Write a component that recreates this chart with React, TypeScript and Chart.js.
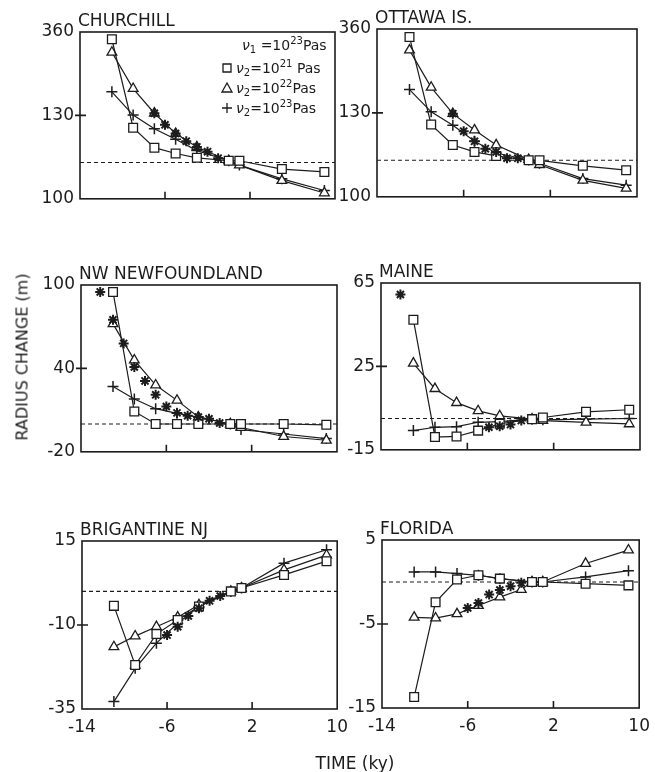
import React, { useEffect, useRef } from 'react';
import { Chart, registerables } from 'chart.js';

Chart.register(...registerables);

// ---------- data ----------
const modelTimes = [-11, -9, -7, -5, -3, 0, 1, 5, 9];
const xTickValues = [-14, -6, 2, 10];
const xTickLabels = ['-14', '-6', '2', '10'];

const churchillYTicks = [-100, 130, 360];
const churchillYLabels = ['100', '130', '360'];
const churchillSquare = [340, 96, 41, 25, 13, 5, 5, -18, -26];
const churchillTriangle = [304, 204, 136, 80, 43, 5, -7, -50, -84];
const churchillPlus = [195, 131, 93, 64, 33, 5, -7, -45, -77];
const churchillObsTimes = [-7, -6, -5, -4, -3, -2, -1];
const churchillObs = [136, 104, 80, 59, 43, 30, 12];

const ottawaYTicks = [-100, 130, 360];
const ottawaYLabels = ['100', '130', '360'];
const ottawaSquare = [338, 98, 42, 23, 12, 0, 0, -15, -27];
const ottawaTriangle = [302, 200, 128, 83, 42, 2, -12, -55, -77];
const ottawaPlus = [194, 133, 96, 52, 20, 1, -8, -50, -68];
const ottawaObsTimes = [-7, -6, -5, -4, -3, -2, -1];
const ottawaObs = [128, 80, 52, 32, 23, 6, 6];

const newfoundlandYTicks = [-20, 40, 100];
const newfoundlandYLabels = ['-20', '40', '100'];
const newfoundlandSquare = [95, 9, 0, 0, 0, 0, 0, 0, -0.6];
const newfoundlandTriangle = [72, 46, 28, 17, 5, 0, -2.5, -9, -11.7];
const newfoundlandPlus = [27, 18, 11, 7.7, 5, 0, -4, -7.2, -10.5];
const newfoundlandObsTimes = [-12.2, -11, -10, -9, -8, -7, -6, -5, -4, -3, -2, -1];
const newfoundlandObs = [95, 75, 58, 41, 31, 21, 12.6, 8, 6, 5, 3.8, 0.7];

const maineYTicks = [-15, 25, 65];
const maineYLabels = ['-15', '25', '65'];
const maineSquare = [47.4, -8.9, -8.6, -5.8, -2.5, -0.3, 0.5, 3.2, 4.2];
const maineTriangle = [26.5, 14.3, 7.6, 3.7, 1.3, -0.3, -1, -1.8, -2.6];
const mainePlus = [-5.8, -4.2, -3.9, -1.8, -1.5, -0.3, -0.6, -0.3, 0];
const maineObsTimes = [-12.2, -4, -3, -2, -1];
const maineObs = [59.5, -4.2, -3.7, -2.9, -1];

const brigantineYTicks = [-35, -10, 15];
const brigantineYLabels = ['-35', '-10', '15'];
const brigantineSquare = [-4.3, -21.9, -12.7, -8.5, -4.5, 0, 1, 4.9, 9];
const brigantineTriangle = [-16.5, -13.3, -10.5, -7.7, -4, 0, 1, 6.4, 10.8];
const brigantinePlus = [-32.8, -22.9, -15.4, -9.5, -4.5, 0, 1, 8.4, 12.4];
const brigantineObsTimes = [-6, -5, -4, -3, -2, -1];
const brigantineObs = [-13, -10.5, -7.3, -5, -2.8, -1.4];

const floridaYTicks = [-15, -5, 5];
const floridaYLabels = ['-15', '-5', '5'];
const floridaSquare = [-13.7, -2.4, 0.3, 0.8, 0.4, 0, 0, -0.2, -0.4];
const floridaTriangleTimes = [-11, -9, -7, -5, -3, -1, 0, 1, 5, 9];
const floridaTriangle = [-4.2, -4.3, -3.8, -2.8, -1.8, -0.9, 0, 0, 2.2, 3.8];
const floridaPlus = [1.2, 1.2, 1.0, 0.8, 0.4, 0, 0, 0.6, 1.35];
const floridaObsTimes = [-6, -5, -4, -3, -2, -1];
const floridaObs = [-3.1, -2.5, -1.5, -0.95, -0.5, -0.1];

// legend rows: [marker, [text, mode]...]
const legendRows: [string, [string, string][]][] = [
  ['', [['ν', 'i'], ['1', 'sub'], [' =10', ''], ['23', 'sup'], ['Pas', '']]],
  ['square', [['ν', 'i'], ['2', 'sub'], ['=10', ''], ['21', 'sup'], [' Pas', '']]],
  ['triangle', [['ν', 'i'], ['2', 'sub'], ['=10', ''], ['22', 'sup'], ['Pas', '']]],
  ['plus', [['ν', 'i'], ['2', 'sub'], ['=10', ''], ['23', 'sup'], ['Pas', '']]],
];

// ---------- layout ----------
const FONT = '"DejaVu Sans", sans-serif';
const INK = '#1c1c1c';
const LM = 62;
const TM = 30;
const RM = 16;

type PanelCfg = {
  title: string;
  yTicks: number[];
  yLabels: string[];
  sq: number[];
  tri: number[];
  triTimes?: number[];
  plus: number[];
  obsT: number[];
  obs: number[];
  rect: { l: number; t: number; r: number; b: number };
  bottom: boolean;
  legend?: boolean;
};

const panels: PanelCfg[] = [
  { title: 'CHURCHILL', yTicks: churchillYTicks, yLabels: churchillYLabels, sq: churchillSquare, tri: churchillTriangle, plus: churchillPlus, obsT: churchillObsTimes, obs: churchillObs, rect: { l: 80, t: 32, r: 335, b: 201 }, bottom: false, legend: true },
  { title: 'OTTAWA IS.', yTicks: ottawaYTicks, yLabels: ottawaYLabels, sq: ottawaSquare, tri: ottawaTriangle, plus: ottawaPlus, obsT: ottawaObsTimes, obs: ottawaObs, rect: { l: 377, t: 29, r: 637, b: 199 }, bottom: false },
  { title: 'NW NEWFOUNDLAND', yTicks: newfoundlandYTicks, yLabels: newfoundlandYLabels, sq: newfoundlandSquare, tri: newfoundlandTriangle, plus: newfoundlandPlus, obsT: newfoundlandObsTimes, obs: newfoundlandObs, rect: { l: 81, t: 285, r: 337, b: 454 }, bottom: false },
  { title: 'MAINE', yTicks: maineYTicks, yLabels: maineYLabels, sq: maineSquare, tri: maineTriangle, plus: mainePlus, obsT: maineObsTimes, obs: maineObs, rect: { l: 381, t: 283, r: 640, b: 452 }, bottom: false },
  { title: 'BRIGANTINE NJ', yTicks: brigantineYTicks, yLabels: brigantineYLabels, sq: brigantineSquare, tri: brigantineTriangle, plus: brigantinePlus, obsT: brigantineObsTimes, obs: brigantineObs, rect: { l: 82, t: 541, r: 340, b: 709 }, bottom: true },
  { title: 'FLORIDA', yTicks: floridaYTicks, yLabels: floridaYLabels, sq: floridaSquare, tri: floridaTriangle, triTimes: floridaTriangleTimes, plus: floridaPlus, obsT: floridaObsTimes, obs: floridaObs, rect: { l: 382, t: 540, r: 642, b: 708 }, bottom: true },
];

const pts = (ts: number[], vs: number[]) => vs.map((v, i) => ({ x: ts[i], y: v }));

function drawRich(ctx: CanvasRenderingContext2D, x: number, y: number, parts: [string, string][]) {
  let cx = x;
  for (const [t, mode] of parts) {
    const small = mode === 'sub' || mode === 'sup';
    ctx.font = `${mode === 'i' ? 'italic ' : ''}${small ? 10 : 14}px ${FONT}`;
    const dy = mode === 'sup' ? -6 : mode === 'sub' ? 3 : 0;
    ctx.fillText(t, cx, y + dy);
    cx += ctx.measureText(t).width;
  }
}

function makePlugin(cfg: PanelCfg) {
  return {
    id: 'panelDecor',
    afterDraw(chart: any) {
      const { ctx, chartArea } = chart;
      const xs = chart.scales.x;
      const ys = chart.scales.y;
      const { left, top, right, bottom } = chartArea;
      ctx.save();
      ctx.strokeStyle = INK;
      ctx.lineWidth = 1.6;
      ctx.strokeRect(left, top, right - left, bottom - top);
      // mid y tick
      const ym = ys.getPixelForValue(cfg.yTicks[1]);
      ctx.beginPath();
      ctx.moveTo(left - 5, ym);
      ctx.lineTo(left + 6, ym);
      // inner x ticks
      for (const v of xTickValues.slice(1, 3)) {
        const px = xs.getPixelForValue(v);
        ctx.moveTo(px, bottom);
        ctx.lineTo(px, bottom - 7);
      }
      ctx.stroke();
      // title
      ctx.fillStyle = INK;
      ctx.font = `17px ${FONT}`;
      ctx.textBaseline = 'alphabetic';
      ctx.textAlign = 'left';
      ctx.fillText(cfg.title, left - 2, top - 6);
      // legend
      if (cfg.legend) {
        const mx = left + 147;
        const baselines = [top + 18, top + 41, top + 61, top + 81];
        legendRows.forEach(([marker, parts], i) => {
          const by = baselines[i];
          const cy = by - 5;
          ctx.lineWidth = 1.3;
          ctx.beginPath();
          if (marker === 'square') ctx.rect(mx - 4, cy - 4, 8, 8);
          if (marker === 'triangle') {
            ctx.moveTo(mx, cy - 5);
            ctx.lineTo(mx + 5, cy + 4);
            ctx.lineTo(mx - 5, cy + 4);
            ctx.closePath();
          }
          if (marker === 'plus') {
            ctx.moveTo(mx - 5, cy);
            ctx.lineTo(mx + 5, cy);
            ctx.moveTo(mx, cy - 5);
            ctx.lineTo(mx, cy + 5);
          }
          ctx.stroke();
          drawRich(ctx, marker ? mx + 9 : mx + 15, by, parts);
        });
      }
      ctx.restore();
    },
  };
}

function buildConfig(cfg: PanelCfg): any {
  const BM = cfg.bottom ? 44 : 14;
  const tickFont = { family: FONT, size: 17 };
  const common = { borderColor: INK, borderWidth: 1.2, tension: 0, clip: false as any };
  return {
    type: 'line',
    data: {
      datasets: [
        { ...common, data: pts(cfg.obsT, cfg.obs), showLine: false, pointStyle: 'star', pointRadius: 5, pointBorderWidth: 2, pointBorderColor: INK },
        { ...common, data: pts(modelTimes, cfg.sq), pointStyle: 'rect', pointRadius: 6.2, pointBackgroundColor: '#fff', pointBorderColor: INK, pointBorderWidth: 1.3 },
        { ...common, data: pts(cfg.triTimes || modelTimes, cfg.tri), pointStyle: 'triangle', pointRadius: 5.6, pointBackgroundColor: '#fff', pointBorderColor: INK, pointBorderWidth: 1.3 },
        { ...common, data: pts(modelTimes, cfg.plus), pointStyle: 'cross', pointRadius: 5.5, pointBorderColor: INK, pointBorderWidth: 1.5 },
        { ...common, data: pts([-14, 10], [0, 0]), borderDash: [4, 3], borderWidth: 1.1, pointRadius: 0 },
      ],
    },
    options: {
      responsive: false,
      maintainAspectRatio: false,
      animation: false,
      events: [],
      layout: { padding: { top: TM, right: RM, left: 0, bottom: 0 } },
      plugins: { legend: { display: false }, tooltip: { enabled: false }, title: { display: false } },
      scales: {
        x: {
          type: 'linear',
          min: -14,
          max: 10,
          grid: { display: false, drawTicks: false },
          border: { display: false },
          afterBuildTicks: (s: any) => { s.ticks = xTickValues.map((v) => ({ value: v })); },
          afterFit: (s: any) => { s.height = BM; },
          ticks: {
            display: cfg.bottom,
            padding: 8,
            color: INK,
            font: tickFont,
            maxRotation: 0,
            autoSkip: false,
            callback: (_v: any, i: number) => xTickLabels[i],
          },
        },
        y: {
          type: 'linear',
          min: cfg.yTicks[0],
          max: cfg.yTicks[2],
          grid: { display: false, drawTicks: false },
          border: { display: false },
          afterBuildTicks: (s: any) => { s.ticks = cfg.yTicks.map((v) => ({ value: v })); },
          afterFit: (s: any) => { s.width = LM; },
          ticks: {
            padding: 6,
            color: INK,
            font: tickFont,
            autoSkip: false,
            callback: (_v: any, i: number) => cfg.yLabels[i],
          },
        },
      },
    },
    plugins: [makePlugin(cfg)],
  };
}

function Panel({ cfg }: { cfg: PanelCfg }) {
  const ref = useRef<HTMLCanvasElement | null>(null);
  const { l, t, r, b } = cfg.rect;
  const BM = cfg.bottom ? 44 : 14;
  const w = r - l + LM + RM;
  const h = b - t + TM + BM;
  useEffect(() => {
    if (!ref.current) return;
    const chart = new Chart(ref.current, buildConfig(cfg));
    return () => chart.destroy();
  }, []);
  return (
    <canvas
      ref={ref}
      width={w}
      height={h}
      style={{ position: 'absolute', left: l - LM, top: t - TM, width: w, height: h }}
    />
  );
}

export default function App() {
  return (
    <div style={{ position: 'absolute', left: 0, top: 0, width: 655, height: 772, background: '#fff', overflow: 'hidden' }}>
      {panels.map((p) => (
        <Panel key={p.title} cfg={p} />
      ))}
      <div
        style={{
          position: 'absolute',
          left: 22,
          top: 357,
          transform: 'translate(-50%, -50%) rotate(-90deg)',
          whiteSpace: 'nowrap',
          font: `16px ${FONT}`,
          color: INK,
        }}
      >
        RADIUS CHANGE (m)
      </div>
      <div
        style={{
          position: 'absolute',
          left: 355,
          top: 763,
          transform: 'translate(-50%, -50%)',
          whiteSpace: 'nowrap',
          font: `17px ${FONT}`,
          color: INK,
        }}
      >
        TIME (ky)
      </div>
    </div>
  );
}
